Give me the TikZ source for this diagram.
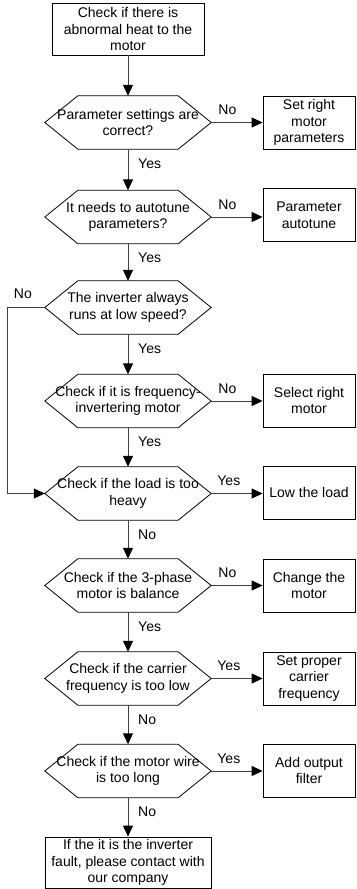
\documentclass[tikz,border=0pt]{standalone}
\usepackage{fontspec}
\setmainfont{Liberation Sans}
\usetikzlibrary{arrows.meta,calc}
\newcommand{\hexdraw}[1]{\draw[hexline] (#1.west) -- ([xshift=33bp]#1.north west) -- ([xshift=-33bp]#1.north east) -- (#1.east) -- ([xshift=-33bp]#1.south east) -- ([xshift=33bp]#1.south west) -- cycle;}
\begin{document}
\begin{tikzpicture}[x=1bp,y=-1bp,
  txt/.style={font=\fontsize{14bp}{16.6bp}\selectfont, align=center, inner sep=0pt},
  box/.style={txt, draw=black, line width=0.8bp},
  rbox/.style={box, minimum width=92bp, minimum height=53bp},
  hexnode/.style={txt, minimum width=166bp, minimum height=53bp},
  hexline/.style={draw=black, line width=0.8bp},
  conn/.style={draw=black!75, line width=1bp, -{Triangle[length=11bp,width=10bp,color=black]}},
  lab/.style={font=\fontsize{14bp}{16.6bp}\selectfont, inner sep=0pt}]
\useasboundingbox (0,0) rectangle (356,889);

\node[box, minimum width=152bp, minimum height=52bp] (top) at (128,29) {Check if there is\\abnormal heat to the\\motor};

\node[hexnode] (h1) at (128,122.5) {Parameter settings are\\correct?};
\node[hexnode] (h2) at (128,217) {It needs to autotune\\parameters?};
\node[hexnode] (h3) at (128,307.5) {The inverter always\\runs at low speed?};
\node[hexnode] (h4) at (128,401) {Check if it is frequency-\\invertering motor};
\node[hexnode] (h5) at (128,493.5) {Check if the load is too\\heavy};
\node[hexnode] (h6) at (128,585.5) {Check if the 3-phase\\motor is balance};
\node[hexnode] (h7) at (128,678.5) {Check if the carrier\\frequency is too low};
\node[hexnode] (h8) at (128,771) {Check if the motor wire\\is too long};
\foreach \h in {h1,h2,h3,h4,h5,h6,h7,h8} {\hexdraw{\h}}

\node[rbox] (r1) at (309,122.5) {Set right\\motor\\parameters};
\node[rbox] (r2) at (309,215) {Parameter\\autotune};
\node[rbox] (r4) at (309,400.5) {Select right\\motor};
\node[rbox] (r5) at (309,492.5) {Low the load};
\node[rbox] (r6) at (309,585.5) {Change the\\motor};
\node[rbox] (r7) at (309,678.5) {Set proper\\carrier\\frequency};
\node[rbox] (r8) at (309,770.5) {Add output\\filter};

\node[box, minimum width=166bp, minimum height=51bp] (bot) at (128,862.5) {If the it is the inverter\\fault, please contact with\\our company};

% vertical connectors
\draw[conn] (top) -- (h1);
\draw[conn] (h1) -- (h2);
\draw[conn] (h2) -- (h3);
\draw[conn] (h3) -- (h4);
\draw[conn] (h4) -- (h5);
\draw[conn] (h5) -- (h6);
\draw[conn] (h6) -- (h7);
\draw[conn] (h7) -- (h8);
\draw[conn] (h8) -- (bot);

% right connectors
\draw[conn] (h1.east) -- (h1.east -| r1.west);
\draw[conn] (h2.east) -- (h2.east -| r2.west);
\draw[conn] (h4.east) -- (h4.east -| r4.west);
\draw[conn] (h5.east) -- (h5.east -| r5.west);
\draw[conn] (h6.east) -- (h6.east -| r6.west);
\draw[conn] (h7.east) -- (h7.east -| r7.west);
\draw[conn] (h8.east) -- (h8.east -| r8.west);

% left loop
\coordinate (lc) at ($(h3.west)+(-37,0)$);
\draw[conn] (h3.west) -- (lc) |- (h5.west);

% right labels
\node[lab, anchor=base west] at ($(h1.east)+(7,-8)$) {No};
\node[lab, anchor=base west] at ($(h2.east)+(7,-8)$) {No};
\node[lab, anchor=base west] at ($(h4.east)+(7,-8)$) {No};
\node[lab, anchor=base west] at ($(h5.east)+(6,-8)$) {Yes};
\node[lab, anchor=base west] at ($(h6.east)+(7,-8)$) {No};
\node[lab, anchor=base west] at ($(h7.east)+(6,-8)$) {Yes};
\node[lab, anchor=base west] at ($(h8.east)+(6,-8)$) {Yes};

% down labels
\node[lab, anchor=base west] at ($(h1.south)+(10,19)$) {Yes};
\node[lab, anchor=base west] at ($(h2.south)+(10,19)$) {Yes};
\node[lab, anchor=base west] at ($(h3.south)+(10,19)$) {Yes};
\node[lab, anchor=base west] at ($(h4.south)+(10,19)$) {Yes};
\node[lab, anchor=base west] at ($(h5.south)+(10,19)$) {No};
\node[lab, anchor=base west] at ($(h6.south)+(10,19)$) {Yes};
\node[lab, anchor=base west] at ($(h7.south)+(10,19)$) {No};
\node[lab, anchor=base west] at ($(h8.south)+(10,19)$) {No};

% left label
\node[lab, anchor=base west] at ($(h3.west)+(-31,-9)$) {No};
\end{tikzpicture}
\end{document}
